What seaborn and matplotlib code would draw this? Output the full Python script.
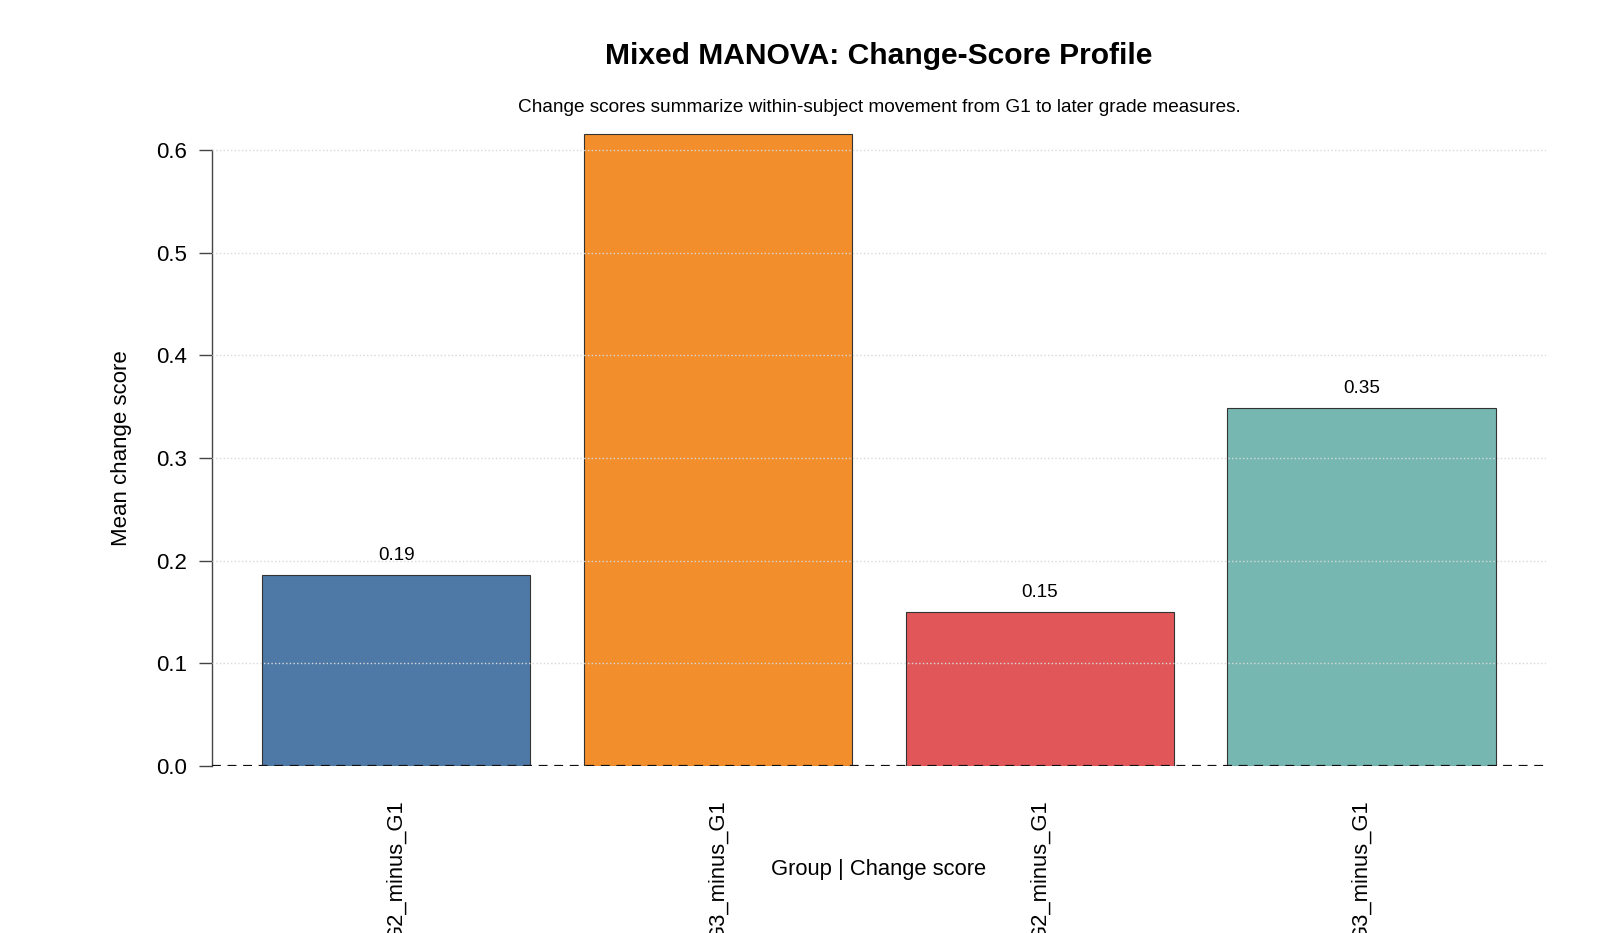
"""
Mixed MANOVA: профиль change-score по группам (столбчатая диаграмма).
"""

import matplotlib
matplotlib.use('Agg')
import matplotlib.pyplot as plt
from matplotlib.ticker import FormatStrFormatter
import seaborn as sns

# Данные
bar_ids = [0, 1, 2, 3]
change_labels = ['G2_minus_G1', 'G3_minus_G1', 'G2_minus_G1', 'G3_minus_G1']
mean_change = [0.186, 0.616, 0.150, 0.349]
bar_colors = ['#4E79A7', '#F28E2B', '#E15759', '#76B7B2']
y_ticks = [0.0, 0.1, 0.2, 0.3, 0.4, 0.5, 0.6]

TITLE = "Mixed MANOVA: Change-Score Profile"
SUBTITLE = "Change scores summarize within-subject movement from G1 to later grade measures."


def main():
    sns.set_style('white')
    plt.rcParams['font.family'] = ['Liberation Sans', 'DejaVu Sans']
    plt.rcParams['text.color'] = 'black'
    plt.rcParams['axes.labelcolor'] = 'black'
    plt.rcParams['xtick.color'] = 'black'
    plt.rcParams['ytick.color'] = 'black'

    fig = plt.figure(figsize=(16, 9.33), dpi=100)
    ax = fig.add_axes([0.1325, 0.179, 0.8337, 0.6823])

    # ширина как в R barplot (width=1, space=0.2)
    bar_w = 1 / 1.2
    sns.barplot(x=bar_ids, y=mean_change, hue=bar_ids, palette=bar_colors,
                saturation=1, width=bar_w, edgecolor='#333333', linewidth=0.8,
                legend=False, ax=ax, zorder=2)

    ax.set_xlim(-0.5733, 3.5733)
    ax.set_ylim(0, 0.62)

    # сетка поверх столбцов, как abline в R
    for t in y_ticks[1:]:
        ax.axhline(t, color='#d9d9d9', linestyle=':', linewidth=1.0, zorder=3)
    ax.axhline(0, color='#111111', linestyle=(0, (4, 3)), linewidth=1.6, zorder=4)

    # подписи значений (если не выходят за пределы области)
    top = ax.get_ylim()[1]
    for i, v in enumerate(mean_change):
        ty = v + 0.019
        if ty < top:
            ax.text(i, ty, f"{v:.2f}", ha='center', va='center',
                    fontsize=13.6, color='black', zorder=5)

    # оси в стиле base R
    for side in ['top', 'right', 'bottom']:
        ax.spines[side].set_visible(False)
    ax.spines['left'].set_bounds(0, 0.6)
    ax.spines['left'].set_color('#444444')
    ax.spines['left'].set_linewidth(1.0)
    ax.set_yticks(y_ticks)
    ax.yaxis.set_major_formatter(FormatStrFormatter('%.1f'))
    ax.tick_params(axis='y', direction='out', length=9.5, width=1.0,
                   color='#444444', labelcolor='black', pad=8.5,
                   labelsize=16, left=True)

    ax.set_xticks(bar_ids)
    ax.set_xticklabels(change_labels, rotation=90, va='top', ha='center')
    ax.tick_params(axis='x', length=0, pad=24, labelsize=15.8,
                   labelcolor='black')

    ax.set_ylabel("Mean change score", fontsize=16, va='center')
    ax.yaxis.set_label_coords(-0.0682, 0.5)
    ax.set_xlabel("Group | Change score", fontsize=15.8, va='center')
    ax.xaxis.set_label_coords(0.5, -0.162)

    fig.text(879 / 1600, 1 - 56 / 933, TITLE, ha='center', va='center',
             fontsize=21.6, fontweight='bold')
    fig.text(879 / 1600, 1 - 107 / 933, SUBTITLE, ha='center', va='center',
             fontsize=13.7)

    fig.savefig('out.png', dpi=100)


if __name__ == "__main__":
    main()
